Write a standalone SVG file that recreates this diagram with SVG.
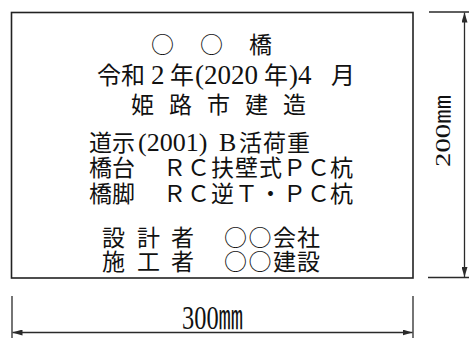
<svg xmlns="http://www.w3.org/2000/svg" width="469" height="338" viewBox="0 0 469 338">
<style>
.t{font-family:'Liberation Serif','Noto Sans CJK JP',serif;font-size:23px;fill:#111}
.c{font-family:'Noto Sans CJK JP','Noto Sans CJK SC',sans-serif}
.d{font-size:26px}
.d2{font-size:27px}
.k2{font-size:24px}
.ln{stroke:#2a2a2a;stroke-width:1.3;fill:none}
.dim{stroke:#2a2a2a;stroke-width:1.3;fill:none;marker-start:url(#ah);marker-end:url(#ah)}
</style>
<defs>
<marker id="ah" viewBox="0 0 10 6" refX="10" refY="3" markerWidth="10" markerHeight="6" markerUnits="userSpaceOnUse" orient="auto-start-reverse">
<path d="M0,0 L10,3 L0,6 Z" fill="#2a2a2a"/>
</marker>
</defs>
<rect width="469" height="338" fill="#fff"/>
<g id="plate">
<rect x="11.5" y="12.5" width="401.5" height="265.5" fill="#fff" stroke="#222" stroke-width="1.6"/>
</g>
<g id="title"><text class="t" y="53"><tspan class="c" x="151">○</tspan><tspan class="c" x="200">○</tspan><tspan x="249">橋</tspan></text></g>
<g id="date"><text class="t" y="84"><tspan class="k2" x="97">令和</tspan><tspan class="d2" x="151">2</tspan><tspan class="k2" x="170">年</tspan><tspan class="d2" x="195">(2020</tspan><tspan class="k2" x="264">年</tspan><tspan class="d2" x="289">)4</tspan><tspan class="k2" x="331">月</tspan></text></g>
<g id="builder"><text class="t" y="113" x="131 169 207 245 283">姫路市建造</text></g>
<g id="spec"><text class="t" y="151"><tspan x="89 112">道示</tspan><tspan class="d" x="138">(2001)</tspan><tspan class="d" x="219">B</tspan><tspan x="239 263 287">活荷重</tspan></text></g>
<g id="abutment"><text class="t" y="176"><tspan x="89 112">橋台</tspan><tspan x="163 187 211 235 259 283 307 330">ＲＣ扶壁式ＰＣ杭</tspan></text></g>
<g id="pier"><text class="t" y="202"><tspan x="89 112">橋脚</tspan><tspan x="163 187 211 235 259 283 307 330">ＲＣ逆Ｔ・ＰＣ杭</tspan></text></g>
<g id="designer"><text class="t" y="246"><tspan x="102 137 171">設計者</tspan><tspan class="c" x="224 248.5">○○</tspan><tspan x="273 297">会社</tspan></text></g>
<g id="contractor"><text class="t" y="270"><tspan x="102 137 171">施工者</tspan><tspan class="c" x="224 248.5">○○</tspan><tspan x="273 297">建設</tspan></text></g>
<g id="connectors">
<line class="ln" x1="429" y1="12" x2="469" y2="12"/>
<line class="ln" x1="428" y1="277.5" x2="469" y2="277.5"/>
<line class="dim" x1="464.5" y1="12.5" x2="464.5" y2="277"/>
<line class="ln" x1="12" y1="296" x2="12" y2="338"/>
<line class="ln" x1="413" y1="296" x2="413" y2="338"/>
<line class="dim" x1="12.5" y1="332.5" x2="412.5" y2="332.5"/>
</g>
<g id="width-label"><text class="t" x="182" y="329" style="font-size:34px" textLength="61" lengthAdjust="spacingAndGlyphs">300㎜</text></g>
<g id="height-label"><text class="t" transform="translate(450,131) rotate(-90)" x="-36" y="0" style="font-size:22px" textLength="72" lengthAdjust="spacingAndGlyphs">200㎜</text></g>
</svg>
